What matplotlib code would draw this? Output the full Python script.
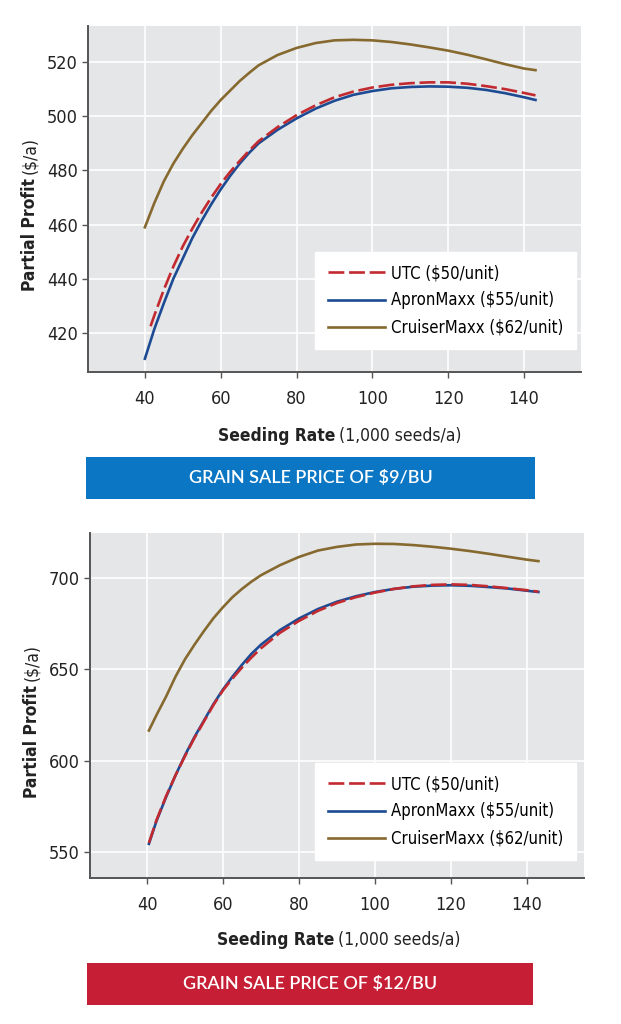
import matplotlib
matplotlib.use("Agg")
import matplotlib.pyplot as plt
from matplotlib.patches import Rectangle

plt.rcParams['font.family'] = ['DejaVu Sans']
plt.rcParams['font.stretch'] = 'condensed'

# Seeding rate (1,000 seeds/a)
rate = [40, 42.5, 45, 47.5, 50, 52.5, 55, 57.5, 60, 62.5, 65, 67.5, 70, 75, 80, 85, 90, 95,
        100, 105, 110, 115, 120, 125, 130, 135, 140, 143]
rate_utc9 = [41.5] + rate[1:]
rate12 = [40.5] + rate[1:]

# $9/bu partial profit ($/a)
utc_9 = [422.5, 426.5, 436, 444.5, 452, 458.5, 464.5, 470, 475, 479.5, 483.5, 487.3, 490.8,
         496, 500.4, 504, 507, 509.1, 510.6, 511.6, 512.2, 512.5, 512.5, 512, 511.1, 510,
         508.6, 507.7]
apron_9 = [410.5, 421.5, 431, 440, 447.5, 455, 461.5, 467.5, 473, 478, 482.5, 486.5, 490,
           495, 499.2, 502.8, 505.7, 507.9, 509.3, 510.3, 510.8, 511, 510.9, 510.5, 509.7,
           508.5, 507, 506]
cruiser_9 = [459, 468, 476, 482.5, 488, 493, 497.5, 502, 506, 509.5, 513, 516, 518.8, 522.6,
             525.2, 527, 528, 528.2, 528, 527.4, 526.5, 525.4, 524.2, 522.7, 521, 519.2,
             517.6, 517]

# $12/bu partial profit ($/a)
utc_12 = [555, 567.5, 580.5, 592, 602.5, 612.5, 621.5, 630.5, 638.5, 645, 651, 656.5, 661.5,
          670, 676.5, 682, 686.3, 689.5, 692, 694, 695.4, 696.2, 696.5, 696.2, 695.4, 694.4,
          693.3, 692.5]
apron_12 = [554.5, 567, 580, 592, 603, 613, 622, 631, 639, 646, 652.5, 658.5, 663.5, 671.5,
            677.8, 683, 687, 690, 692.3, 694, 695.2, 695.8, 696, 695.7, 695, 694.2, 693, 692.3]
cruiser_12 = [616.5, 625, 635, 646, 655.5, 663.5, 671, 678, 684, 689.5, 694, 698, 701.5, 707,
              711.5, 715, 717, 718.3, 718.7, 718.6, 718, 717.1, 716, 714.7, 713.2, 711.6,
              710, 709.2]

labels = ['UTC ($50/unit)', 'ApronMaxx ($55/unit)', 'CruiserMaxx ($62/unit)']
xticks = [40, 60, 80, 100, 120, 140]
yticks_9 = [420, 440, 460, 480, 500, 520]
yticks_12 = [550, 600, 650, 700]

RED = '#c22a30'
BLUE = '#1d4b93'
BROWN = '#86692f'
BG = '#e5e6e8'

W, H = 621, 1024
fig = plt.figure(figsize=(W / 100, H / 100), dpi=100)


def px(x0, y0, x1, y1):
    return [x0 / W, 1 - y1 / H, (x1 - x0) / W, (y1 - y0) / H]


def draw_panel(ax, xs_utc, utc, xs, apron, xs_cr, cruiser, yticks, ylim, anchor):
    ax.set_facecolor(BG)
    ax.plot(xs_utc, utc, color=RED, lw=1.9, dashes=(6, 1.8), label=labels[0], zorder=3)
    ax.plot(xs, apron, color=BLUE, lw=1.9, label=labels[1], zorder=2)
    ax.plot(xs_cr, cruiser, color=BROWN, lw=1.9, label=labels[2], zorder=2)
    ax.set_xlim(25, 155)
    ax.set_ylim(*ylim)
    ax.set_xticks(xticks)
    ax.set_yticks(yticks)
    ax.grid(True, color='white', lw=1.2)
    ax.set_axisbelow(True)
    for s in ['top', 'right']:
        ax.spines[s].set_visible(False)
    for s in ['left', 'bottom']:
        ax.spines[s].set_color('#555555')
        ax.spines[s].set_linewidth(1.4)
    ax.tick_params(axis='both', labelsize=13, length=4, width=1, color='#555555',
                   labelcolor='#222222')
    ax.tick_params(axis='x', pad=9)
    leg = ax.legend(loc='lower right', bbox_to_anchor=anchor, fontsize=12, frameon=True,
                    fancybox=False, handlelength=3.4, handletextpad=0.4, borderpad=0.75,
                    labelspacing=0.55, borderaxespad=0)
    leg.get_frame().set_edgecolor('white')
    leg.get_frame().set_facecolor('white')
    leg.get_frame().set_alpha(1)


ax1 = fig.add_axes(px(88, 26, 581, 372))
draw_panel(ax1, rate_utc9, utc_9, rate, apron_9, rate, cruiser_9, yticks_9, (405.6, 533.3),
           (0.99, 0.066))

ax2 = fig.add_axes(px(90, 533, 584, 878))
draw_panel(ax2, rate12, utc_12, rate12, apron_12, rate12, cruiser_12, yticks_12,
           (535.8, 724.6), (0.984, 0.052))


def axis_labels(x_split, x_y, y_x, y_split):
    fig.text((x_split - 2) / W, 1 - x_y / H, 'Seeding Rate', ha='right', va='center',
             fontsize=12.5, fontweight='bold', color='#222222')
    fig.text((x_split + 2) / W, 1 - x_y / H, '(1,000 seeds/a)', ha='left', va='center',
             fontsize=12.5, color='#222222')
    fig.text(y_x / W, 1 - (y_split + 2) / H, 'Partial Profit', ha='center', va='top',
             rotation=90, fontsize=12.5, fontweight='bold', color='#222222')
    fig.text(y_x / W, 1 - (y_split - 2) / H, '($/a)', ha='center', va='bottom',
             rotation=90, fontsize=12.5, color='#222222')


axis_labels(337, 436, 30, 176)
axis_labels(336, 940, 32, 683)


def banner(x0, y0, x1, y1, color, text):
    fig.patches.append(Rectangle((x0 / W, 1 - y1 / H), (x1 - x0) / W, (y1 - y0) / H,
                                 transform=fig.transFigure, facecolor=color, edgecolor='none'))
    fig.text((x0 + x1) / 2 / W, 1 - (y0 + y1) / 2 / H, text, ha='center', va='center',
             color='white', fontsize=13, family=['Lato', 'DejaVu Sans'],
             fontweight='semibold', fontstretch='normal')


banner(86, 457, 535, 499, '#0b76c4', 'GRAIN SALE PRICE OF $9/BU')
banner(87, 963, 533, 1005, '#c61f35', 'GRAIN SALE PRICE OF $12/BU')

fig.savefig('out.png', dpi=100)
